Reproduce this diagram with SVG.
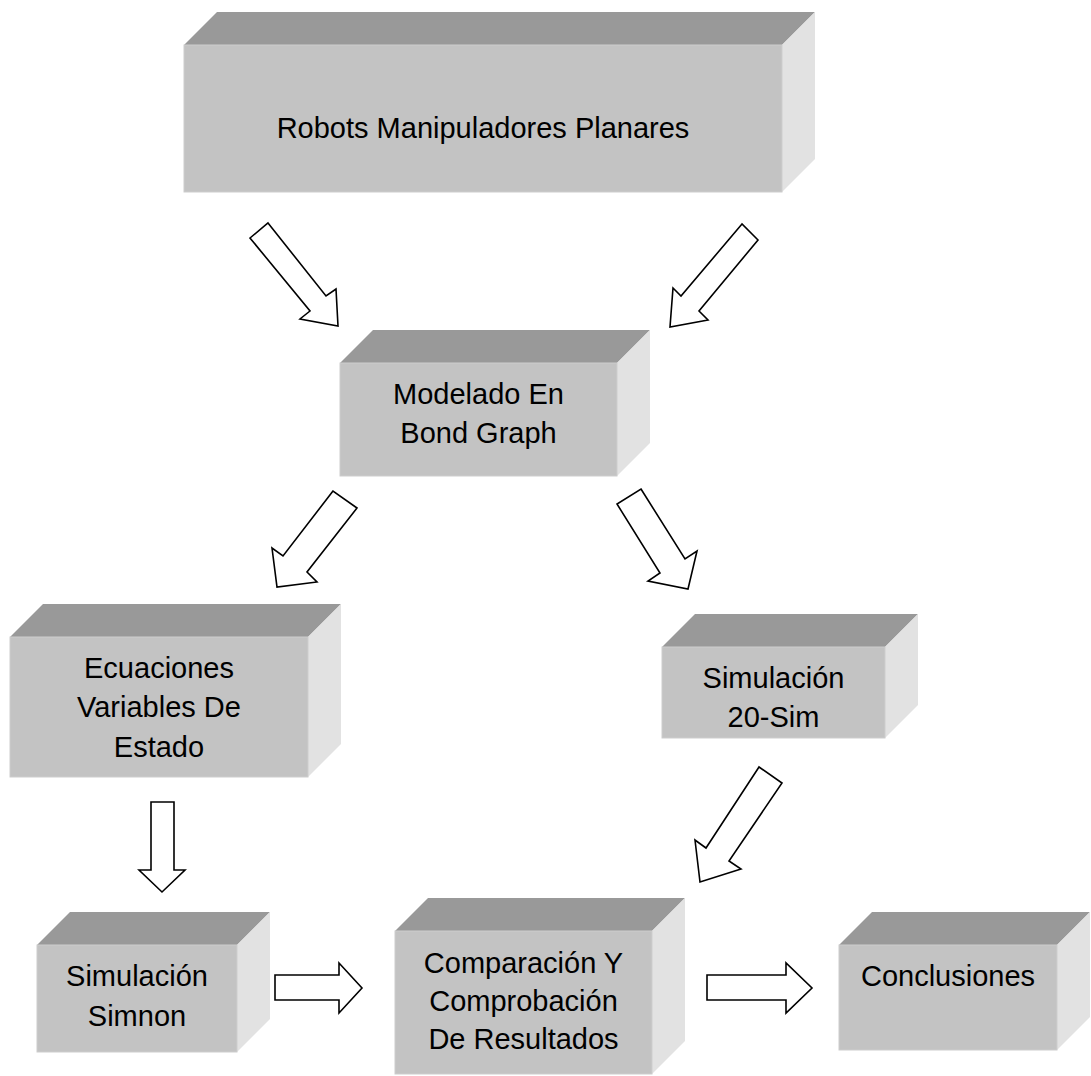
<svg xmlns="http://www.w3.org/2000/svg" width="1091" height="1076" viewBox="0 0 1091 1076">
<style>
.front{fill:#c3c3c3;stroke:#cdcdcd;stroke-width:1}
.top{fill:#999999}
.side{fill:#e2e2e2}
.lbl{font-family:"Liberation Sans",Arial,sans-serif;font-size:29px;fill:#000;text-anchor:middle}
.arr{fill:#fff;stroke:#000;stroke-width:1.6;stroke-linejoin:miter}
</style>
<rect width="1091" height="1076" fill="#fff"/>
<g id="n1">
<polygon class="top" points="184,45 217,12 815,12 782,45"/>
<polygon class="side" points="782,45 815,12 815,159 782,192"/>
<rect class="front" x="184" y="45" width="598" height="147"/>
<text class="lbl" x="483" y="138">Robots Manipuladores Planares</text>
</g>
<g id="n2">
<polygon class="top" points="340,363 373,330 650,330 617,363"/>
<polygon class="side" points="617,363 650,330 650,443 617,476"/>
<rect class="front" x="340" y="363" width="277" height="113"/>
<text class="lbl" x="478.5" y="404">Modelado En</text>
<text class="lbl" x="478.5" y="443">Bond Graph</text>
</g>
<g id="n3">
<polygon class="top" points="10,637 43,604 341,604 308,637"/>
<polygon class="side" points="308,637 341,604 341,744 308,777"/>
<rect class="front" x="10" y="637" width="298" height="140"/>
<text class="lbl" x="159" y="678">Ecuaciones</text>
<text class="lbl" x="159" y="717">Variables De</text>
<text class="lbl" x="159" y="757">Estado</text>
</g>
<g id="n4">
<polygon class="top" points="662,647 695,614 918,614 885,647"/>
<polygon class="side" points="885,647 918,614 918,705 885,738"/>
<rect class="front" x="662" y="647" width="223" height="91"/>
<text class="lbl" x="773.5" y="688">Simulación</text>
<text class="lbl" x="773.5" y="727">20-Sim</text>
</g>
<g id="n5">
<polygon class="top" points="37,945 70,912 270,912 237,945"/>
<polygon class="side" points="237,945 270,912 270,1019 237,1052"/>
<rect class="front" x="37" y="945" width="200" height="107"/>
<text class="lbl" x="137" y="986">Simulación</text>
<text class="lbl" x="137" y="1026">Simnon</text>
</g>
<g id="n6">
<polygon class="top" points="395,931 428,898 685,898 652,931"/>
<polygon class="side" points="652,931 685,898 685,1041 652,1074"/>
<rect class="front" x="395" y="931" width="257" height="143"/>
<text class="lbl" x="523.5" y="973">Comparación Y</text>
<text class="lbl" x="523.5" y="1011">Comprobación</text>
<text class="lbl" x="523.5" y="1049">De Resultados</text>
</g>
<g id="n7">
<polygon class="top" points="839,945 872,912 1090,912 1057,945"/>
<polygon class="side" points="1057,945 1090,912 1090,1017 1057,1050"/>
<rect class="front" x="839" y="945" width="218" height="105"/>
<text class="lbl" x="948" y="986">Conclusiones</text>
</g>
<g id="connectors">
<polygon class="arr" points="268,223 326,296 336,289 338,326 300,319 310,311 250,238"/>
<polygon class="arr" points="742,224 681,296 673,288 670,327 708,320 699,311 758,240"/>
<polygon class="arr" points="333,491 283,556 272,548 277,587 317,582 307,572 357,508"/>
<polygon class="arr" points="641,489 685,559 697,551 688,589 648,581 660,573 617,504"/>
<polygon class="arr" points="759,767 706,848 695,840 700,882 741,869 729,861 782,783"/>
<polygon class="arr" points="151,802 174,802 174,870 185,870 162,892 139,870 151,870"/>
<polygon class="arr" points="275,975 339,975 339,963 362,988 339,1013 339,1000 275,1000"/>
<polygon class="arr" points="707,975 786,975 786,963 812,988 786,1013 786,1000 707,1000"/>
</g>
</svg>
